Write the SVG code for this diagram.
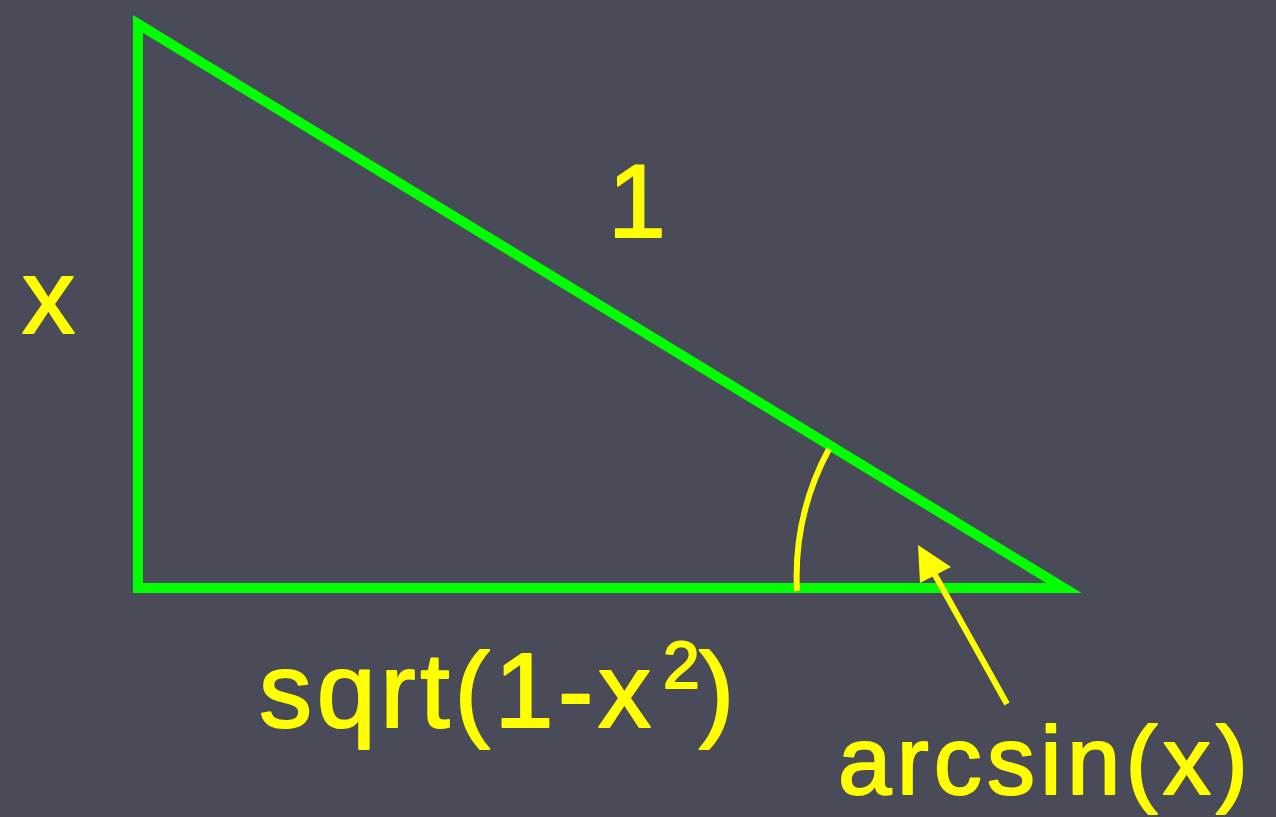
<svg xmlns="http://www.w3.org/2000/svg" width="1276" height="817" viewBox="0 0 1276 817">
<style>
.lbl{font-family:"Comic Sans MS","Liberation Sans","DejaVu Sans",sans-serif;fill:#ffff00;stroke:#ffff00;stroke-width:2;stroke-linejoin:round}
.tri{fill:none;stroke:#00ff00;stroke-width:10;stroke-linejoin:miter;stroke-miterlimit:10}
.yl{fill:none;stroke:#ffff00;stroke-width:6}
</style>
<rect x="0" y="0" width="1276" height="817" fill="#4a4b59"/>
<g id="triangle">
<polygon class="tri" points="138,24 138,588 1064,588"/>
</g>
<g id="connectors">
<path id="angle-arc" class="yl" d="M797,591 A270,270 0 0 1 829,449"/>
<line id="arrow-line" class="yl" x1="1007" y1="704" x2="930" y2="566"/>
<polygon id="arrow-head" points="918,545 951,567 920,583" fill="#ffff00"/>
</g>
<g id="label-x">
<text class="lbl" x="22" y="333" font-size="106">x</text>
</g>
<g id="label-1">
<text class="lbl" x="637" y="237" font-size="104" text-anchor="middle">1</text>
</g>
<g id="label-sqrt">
<text class="lbl" y="727" font-size="106"><tspan x="259" textLength="392" lengthAdjust="spacing">sqrt(1-x</tspan><tspan x="663" y="688" font-size="66">2</tspan><tspan x="699" y="727">)</tspan></text>
</g>
<g id="label-arcsin">
<text class="lbl" x="838" y="794" font-size="96" textLength="410" lengthAdjust="spacing">arcsin(x)</text>
</g>
</svg>
